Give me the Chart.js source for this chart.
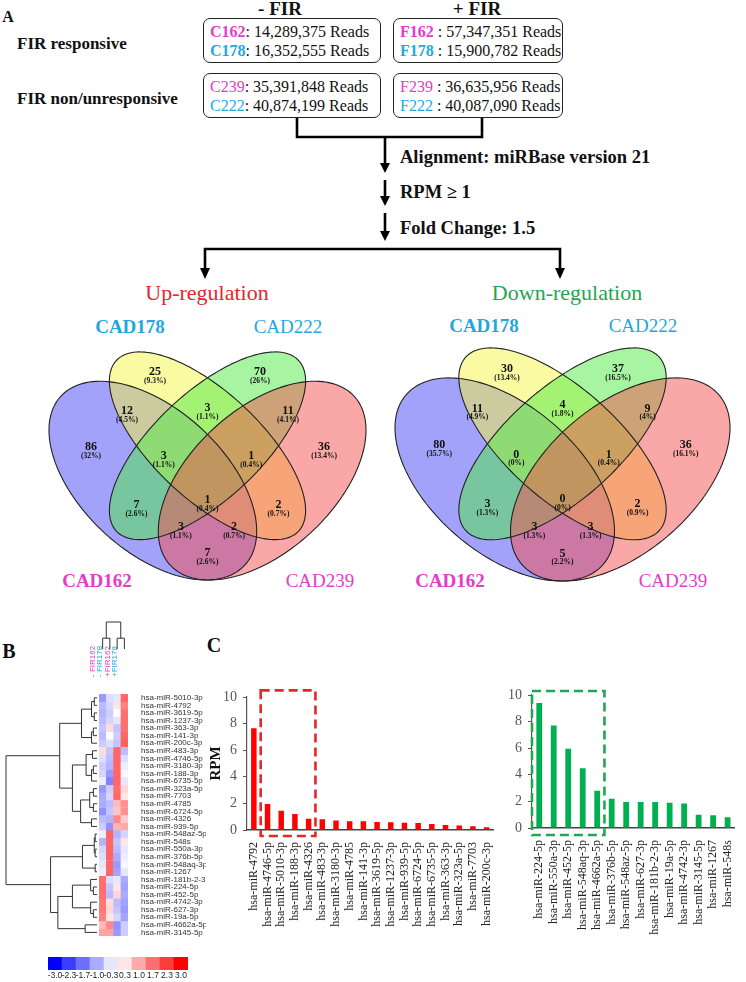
<!DOCTYPE html>
<html>
<head>
<meta charset="utf-8">
<script src="https://cdn.jsdelivr.net/npm/chart.js@4.4.0/dist/chart.umd.min.js"></script>
<style>
body{margin:0;width:746px;height:982px;position:relative;overflow:hidden;background:#fff;font-family:'Liberation Serif',serif;color:#111}
.t{position:absolute;white-space:nowrap;line-height:1}
.c{transform:translate(-50%,-50%)}
.m{transform:translateY(-50%)}
.b{font-weight:bold}
.box{position:absolute;border:1.6px solid #222;border-radius:7px;box-sizing:border-box;font-size:16px;line-height:19px;padding:3px 0 0 6px;white-space:nowrap;height:45px}
.mag{color:#e63bc8}.cy{color:#1fa8e0}
canvas,svg{position:absolute}
</style>
</head>
<body>
<div class="t b c" style="left:8px;top:17px;font-size:16px">A</div>
<div class="t b c" style="left:280px;top:8px;font-size:19px">- FIR</div>
<div class="t b c" style="left:477px;top:8px;font-size:19px">+ FIR</div>
<div class="t b m" style="left:17px;top:43px;font-size:17px">FIR responsive</div>
<div class="t b m" style="left:17px;top:98px;font-size:17px">FIR non/unresponsive</div>
<div class="box" style="left:203px;top:18px;width:178px"><span class="b mag">C162</span>: 14,289,375 Reads<br><span class="b cy">C178</span>: 16,352,555 Reads</div>
<div class="box" style="left:393px;top:18px;width:170px"><span class="b mag">F162</span> : 57,347,351 Reads<br><span class="b cy">F178</span> : 15,900,782 Reads</div>
<div class="box" style="left:203px;top:73px;width:178px"><span class="mag">C239</span>: 35,391,848 Reads<br><span class="cy">C222</span>: 40,874,199 Reads</div>
<div class="box" style="left:393px;top:73px;width:170px"><span class="mag">F239</span> : 36,635,956 Reads<br><span class="cy">F222</span> : 40,087,090 Reads</div>
<svg width="746" height="290" style="left:0;top:0">
  <g stroke="#000" stroke-width="2.6" fill="none">
    <path d="M297 118 V137 H482 V118"/>
    <path d="M385 137 V164"/>
    <path d="M385 180 V197"/>
    <path d="M385 213 V232"/>
    <path d="M205 270 V249 H560 V270"/>
  </g>
  <g fill="#000">
    <polygon points="380,163 390,163 385,173"/>
    <polygon points="380,196 390,196 385,206"/>
    <polygon points="380,231 390,231 385,241"/>
    <polygon points="200,268 210,268 205,279"/>
    <polygon points="555,268 565,268 560,279"/>
  </g>
</svg>
<div class="t b m" style="left:400px;top:157px;font-size:18.5px">Alignment: miRBase version 21</div>
<div class="t b m" style="left:400px;top:192px;font-size:18.5px">RPM ≥ 1</div>
<div class="t b m" style="left:400px;top:228px;font-size:18.5px">Fold Change: 1.5</div>
<div class="t c" style="left:207px;top:293px;font-size:22px;color:#e3262b">Up-regulation</div>
<div class="t c" style="left:567px;top:293px;font-size:22px;color:#1fa650">Down-regulation</div>

<div class="t c b cy" style="left:130px;top:326px;font-size:19px">CAD178</div>
<div class="t c cy" style="left:288px;top:326px;font-size:19px">CAD222</div>
<div class="t c b mag" style="left:97px;top:580px;font-size:19px">CAD162</div>
<div class="t c mag" style="left:320px;top:580px;font-size:19px">CAD239</div>
<div class="t c b cy" style="left:484px;top:325px;font-size:19px">CAD178</div>
<div class="t c cy" style="left:643px;top:325px;font-size:19px">CAD222</div>
<div class="t c b mag" style="left:450px;top:580px;font-size:19px">CAD162</div>
<div class="t c mag" style="left:673px;top:580px;font-size:19px">CAD239</div>

<canvas id="vennUp" width="323" height="234" style="left:46px;top:349px"></canvas>
<canvas id="vennDown" width="341" height="239" style="left:392px;top:345px"></canvas>

<div class="t b c" style="left:9px;top:651px;font-size:20px">B</div>
<div class="t b c" style="left:214px;top:645px;font-size:20px">C</div>

<canvas id="heat" width="206" height="346" style="left:0;top:600px"></canvas>
<canvas id="colorbar" width="150" height="27" style="left:43px;top:955px"></canvas>
<canvas id="upBars" width="305" height="302" style="left:200px;top:680px"></canvas>
<canvas id="downBars" width="246" height="302" style="left:500px;top:680px"></canvas>

<script>
// ---- data ----
const upMiRs = ['hsa-miR-4792', 'hsa-miR-4746-5p', 'hsa-miR-5010-3p', 'hsa-miR-188-3p', 'hsa-miR-4326',
  'hsa-miR-483-3p', 'hsa-miR-3180-3p', 'hsa-miR-4785', 'hsa-miR-141-3p', 'hsa-miR-3619-5p',
  'hsa-miR-1237-3p', 'hsa-miR-939-5p', 'hsa-miR-6724-5p', 'hsa-miR-6735-5p', 'hsa-miR-363-3p',
  'hsa-miR-323a-5p', 'hsa-miR-7703', 'hsa-miR-200c-3p'];
const upRPM = [7.65, 1.95, 1.45, 1.2, 0.85, 0.8, 0.72, 0.65, 0.65, 0.6, 0.58, 0.55, 0.52, 0.45, 0.38, 0.33, 0.28, 0.2];

const downMiRs = ['hsa-miR-224-5p', 'hsa-miR-550a-3p', 'hsa-miR-452-5p', 'hsa-miR-548aq-3p', 'hsa-miR-4662a-5p',
  'hsa-miR-376b-5p', 'hsa-miR-548az-5p', 'hsa-miR-627-3p', 'hsa-miR-181b-2-3p', 'hsa-miR-19a-5p',
  'hsa-miR-4742-3p', 'hsa-miR-3145-5p', 'hsa-miR-1267', 'hsa-miR-548s'];
const downRPM = [9.4, 7.7, 5.95, 4.5, 2.8, 2.2, 1.95, 1.95, 1.95, 1.9, 1.85, 1.0, 0.95, 0.8];

const rpmTicks = [0, 2, 4, 6, 8, 10];

// venn regions: A=CAD162, B=CAD178, C=CAD222, D=CAD239
const vennRegions = ['B', 'C', 'AB', 'BC', 'CD', 'A', 'ABC', 'BCD', 'D', 'AC', 'ABCD', 'BD', 'ACD', 'ABD', 'AD'];
const upCounts = [25, 70, 12, 3, 11, 86, 3, 1, 36, 7, 1, 2, 3, 2, 7];
const upPct = ['9.3%', '26%', '4.5%', '1.1%', '4.1%', '32%', '1.1%', '0.4%', '13.4%', '2.6%', '0.4%', '0.7%', '1.1%', '0.7%', '2.6%'];
const downCounts = [30, 37, 11, 4, 9, 80, 0, 1, 36, 3, 0, 2, 3, 3, 5];
const downPct = ['13.4%', '16.5%', '4.9%', '1.8%', '4%', '35.7%', '0%', '0.4%', '16.1%', '1.3%', '0%', '0.9%', '1.3%', '1.3%', '2.2%'];

const heatSamples = ['- FIR162', '- FIR178', '+FIR162', '+FIR178'];
const heatRows = ['hsa-miR-5010-3p', 'hsa-miR-4792', 'hsa-miR-3619-5p', 'hsa-miR-1237-3p', 'hsa-miR-363-3p',
  'hsa-miR-141-3p', 'hsa-miR-200c-3p', 'hsa-miR-483-3p', 'hsa-miR-4746-5p', 'hsa-miR-3180-3p',
  'hsa-miR-188-3p', 'hsa-miR-6735-5p', 'hsa-miR-323a-5p', 'hsa-miR-7703', 'hsa-miR-4785',
  'hsa-miR-6724-5p', 'hsa-miR-4326', 'hsa-miR-939-5p', 'hsa-miR-548az-5p', 'hsa-miR-548s',
  'hsa-miR-550a-3p', 'hsa-miR-376b-5p', 'hsa-miR-548aq-3p', 'hsa-miR-1267', 'hsa-miR-181b-2-3p',
  'hsa-miR-224-5p', 'hsa-miR-452-5p', 'hsa-miR-4742-3p', 'hsa-miR-627-3p', 'hsa-miR-19a-5p',
  'hsa-miR-4662a-5p', 'hsa-miR-3145-5p'];
const heatValues = [
  [-1.2, -0.4, -0.3, 1.8], [-0.8, -0.5, 0.3, 1.5], [-0.9, -0.6, 0.0, 1.7], [-0.8, -0.5, -0.3, 1.7],
  [-0.7, 0.4, -0.7, 1.7], [-0.8, 0.0, -0.6, 1.8], [-0.6, -0.4, -0.7, 1.9], [0.4, -0.7, 1.8, -0.8],
  [-0.4, -0.8, 1.8, -0.4], [-0.6, -0.9, 1.8, -0.2], [-0.5, -1.2, 1.8, 0.1], [-0.2, -1.5, 1.8, -0.3],
  [-1.2, -0.6, 1.7, 0.5], [-1.0, -0.5, 1.8, 0.3], [-1.0, -0.8, 0.8, 1.3], [-1.3, -0.7, 0.7, 1.3],
  [-0.8, -0.9, 1.4, 0.6], [-0.6, -1.3, 0.9, 1.0], [-0.2, 1.8, -0.9, -0.5], [-0.9, 1.8, -0.7, 0.3],
  [-0.5, 1.8, -0.8, -0.3], [-0.4, 1.8, -1.0, -0.2], [-0.3, 1.8, -1.2, -0.1], [-0.2, 1.8, -1.1, -0.3],
  [1.7, -0.4, -0.3, -1.0], [1.7, -0.7, 0.3, -1.1], [1.7, -0.8, 0.5, -1.0], [1.6, 0.4, -0.8, -1.1],
  [1.6, 0.5, -0.7, -1.2], [1.5, 0.3, -0.5, -1.1], [0.8, 1.4, -1.3, -0.6], [1.1, 1.1, -1.2, -0.6]
];
// dendrograms: [left, right, height]
const rowTree = [
  [[[[0, 1, .03], [2, 3, .03], .06], [[4, 5, .04], 6, .06], .17],
   [[[7, 8, .05], [[9, 10, .04], 11, .06], .12], [[[12, 13, .04], [14, 15, .04], .08], [16, 17, .06], .18], .27], .41],
  [[[[18, 19, .02], [20, 21, .02], .03], [22, 23, .02], .16],
   [[[24, [25, 26, .04], .07], [27, [28, 29, .04], .07], .27], [30, 31, .13], .43], .51],
  1];
const colTree = [[0, 1, .4], [2, 3, .4], 1];
const colorbarTicks = [-3.0, -2.3, -1.7, -1.0, -0.3, 0.3, 1.0, 1.7, 2.3, 3.0];

// ---- drawing ----
Chart.defaults.font.family = "'Liberation Serif', serif";
const base = {responsive: false, animation: false, events: []};

function heatColor(v) {
  const t = Math.min(1, Math.abs(v) / 3);
  const c = Math.round(255 * (1 - t));
  return v < 0 ? `rgb(${c},${c},255)` : `rgb(255,${c},${c})`;
}

// layout of the 4-ellipse venn (unit square)
const vennShapes = [
  {cx: .35, cy: .47, a: .35, b: .20, rot: 135, fill: 'rgba(70,70,245,0.5)'},
  {cx: .50, cy: .57, a: .35, b: .15, rot: 135, fill: 'rgba(245,245,70,0.5)'},
  {cx: .50, cy: .57, a: .35, b: .15, rot: 45, fill: 'rgba(80,235,70,0.5)'},
  {cx: .65, cy: .47, a: .35, b: .20, rot: 45, fill: 'rgba(245,80,80,0.5)'}
];
const regionXY = [[.356, .770], [.644, .770], [.279, .658], [.5, .667], [.721, .658], [.18, .555], [.38, .529],
  [.62, .529], [.82, .555], [.305, .389], [.5, .403], [.695, .389], [.427, .326], [.573, .326], [.5, .251]];

function ellipsePath(ctx, e, x, y) {
  const th = e.rot * Math.PI / 180;
  ctx.beginPath();
  for (let k = 0; k <= 160; k++) {
    const t = k / 160 * 2 * Math.PI, u = e.a * Math.cos(t), w = e.b * Math.sin(t);
    const px = x.getPixelForValue(e.cx + u * Math.cos(th) - w * Math.sin(th));
    const py = y.getPixelForValue(e.cy + u * Math.sin(th) + w * Math.cos(th));
    k ? ctx.lineTo(px, py) : ctx.moveTo(px, py);
  }
  ctx.closePath();
}

const vennPlugin = {
  id: 'venn',
  beforeDatasetsDraw(chart) {
    const {ctx, scales: {x, y}} = chart;
    ctx.save();
    vennShapes.forEach(e => { ellipsePath(ctx, e, x, y); ctx.fillStyle = e.fill; ctx.fill(); });
    ctx.strokeStyle = '#222'; ctx.lineWidth = 1.1;
    vennShapes.forEach(e => { ellipsePath(ctx, e, x, y); ctx.stroke(); });
    ctx.restore();
  },
  afterDatasetsDraw(chart, args, o) {
    const ctx = chart.ctx;
    ctx.save();
    ctx.fillStyle = '#111'; ctx.textAlign = 'center'; ctx.textBaseline = 'middle';
    chart.getDatasetMeta(0).data.forEach((p, i) => {
      ctx.font = "bold 12px 'Liberation Serif'";
      ctx.fillText(String(o.counts[i]), p.x, p.y - 4);
      ctx.font = "bold 7.5px 'Liberation Serif'";
      ctx.fillText('(' + o.pcts[i] + ')', p.x, p.y + 5);
    });
    ctx.restore();
  }
};

function venn(id, counts, pcts) {
  new Chart(document.getElementById(id), {
    type: 'scatter',
    data: {datasets: [{data: regionXY.map(p => ({x: p[0], y: p[1]})), pointRadius: 0}]},
    options: {...base, layout: {padding: 3},
      scales: {x: {display: false, min: .065, max: .935}, y: {display: false, min: .185, max: .839}},
      plugins: {legend: {display: false}, tooltip: {enabled: false}, venn: {counts, pcts}}},
    plugins: [vennPlugin]
  });
}
venn('vennUp', upCounts, upPct);
venn('vennDown', downCounts, downPct);

// heatmap with dendrograms
function walk(n, leaf, hp, seg) {
  if (typeof n === 'number') return {p: leaf(n), h: 0};
  const a = walk(n[0], leaf, hp, seg), b = walk(n[1], leaf, hp, seg), H = hp(n[2]);
  seg(hp(a.h), a.p, H, a.p); seg(hp(b.h), b.p, H, b.p); seg(H, a.p, H, b.p);
  return {p: (a.p + b.p) / 2, h: n[2]};
}
const dendro = {
  id: 'dendro',
  afterDraw(chart) {
    const {ctx, chartArea: ca, scales: {x, y}} = chart;
    ctx.save(); ctx.strokeStyle = '#333'; ctx.lineWidth = 1;
    const line = (x1, y1, x2, y2) => { ctx.beginPath(); ctx.moveTo(x1, y1); ctx.lineTo(x2, y2); ctx.stroke(); };
    walk(rowTree, i => y.getPixelForValue(i + 0.5), h => ca.left - 2 - h * 91, (a, b, c, d) => line(a, b, c, d));
    walk(colTree, i => x.getPixelForValue(i), h => ca.top - 45 - h * 27, (a, b, c, d) => line(b, a, d, c));
    ctx.restore();
  }
};
new Chart(document.getElementById('heat'), {
  type: 'bar',
  data: {labels: heatSamples, datasets: heatRows.map((r, i) => {
    const cols = heatValues[i].map(heatColor);
    return {label: r, data: heatSamples.map(() => 1), backgroundColor: cols, borderColor: cols,
      borderWidth: 0.5, borderSkipped: false, barPercentage: 1, categoryPercentage: 1};
  })},
  options: {...base, layout: {padding: {left: 99, bottom: 1, top: 0, right: 0}},
    plugins: {legend: {display: false}, tooltip: {enabled: false}},
    scales: {
      x: {stacked: true, position: 'top', grid: {display: false}, border: {display: false},
        ticks: {autoSkip: false, minRotation: 90, maxRotation: 90, padding: 9,
          font: {family: "'Liberation Sans'", size: 8},
          color: c => (c.index % 2 ? '#1fa8e0' : '#e63bc8')},
        afterFit: s => { s.height = 94; }},
      y: {stacked: true, position: 'right', reverse: true, min: 0, max: heatRows.length,
        grid: {display: false}, border: {display: false},
        afterBuildTicks: s => { s.ticks = heatRows.map((_, i) => ({value: i + 0.5})); },
        ticks: {autoSkip: false, padding: 5, color: '#333', font: {family: "'Liberation Sans'", size: 8},
          callback: (v, i) => heatRows[i]},
        afterFit: s => { s.width = 78; }}
    }},
  plugins: [dendro]
});

// colour key: labels written under each cell from the category scale
const keyLabels = {
  id: 'keyLabels',
  afterDraw(chart) {
    const {ctx, chartArea: ca, scales: {x}} = chart;
    ctx.save();
    ctx.fillStyle = '#222'; ctx.textAlign = 'center'; ctx.textBaseline = 'middle';
    ctx.font = "8.5px 'Liberation Sans Narrow', 'Liberation Sans'";
    x.getLabels().forEach((lab, i) => ctx.fillText(lab, x.getPixelForValue(i), ca.bottom + 6));
    ctx.restore();
  }
};
new Chart(document.getElementById('colorbar'), {
  type: 'bar',
  data: {labels: colorbarTicks.map(v => v.toFixed(1)), datasets: [{data: colorbarTicks.map(() => 1),
    backgroundColor: colorbarTicks.map(heatColor), barPercentage: 1, categoryPercentage: 1, borderWidth: 0}]},
  options: {...base, layout: {padding: {left: 5, right: 5, top: 2, bottom: 12}},
    plugins: {legend: {display: false}, tooltip: {enabled: false}},
    scales: {y: {display: false, min: 0, max: 1}, x: {display: false}}},
  plugins: [keyLabels]
});

// RPM bar charts
const dashBox = {
  id: 'dashBox',
  afterDraw(chart, args, o) {
    const {ctx, scales: {x, y}} = chart;
    const half = (x.getPixelForValue(1) - x.getPixelForValue(0)) / 2;
    const l = x.getPixelForValue(o.from) - half, r = x.getPixelForValue(o.to) + half;
    const t = y.getPixelForValue(o.top), b = y.getPixelForValue(0) + o.below;
    ctx.save(); ctx.strokeStyle = o.color; ctx.lineWidth = 2.6; ctx.setLineDash([9, 5]);
    ctx.strokeRect(l, t, r - l, b - t); ctx.restore();
  }
};
function rpmChart(id, cats, vals, color, box, yWidth, xHeight, padTop, title) {
  new Chart(document.getElementById(id), {
    type: 'bar',
    data: {labels: cats, datasets: [{data: vals, backgroundColor: color, barPercentage: 0.4, categoryPercentage: 1}]},
    options: {...base, layout: {padding: {top: padTop, right: 0, left: 0, bottom: 0}},
      plugins: {legend: {display: false}, tooltip: {enabled: false}, dashBox: box},
      scales: {
        x: {grid: {display: false}, border: {color: '#444', width: 1.6},
          ticks: {autoSkip: false, minRotation: 90, maxRotation: 90, padding: 4, color: '#222', font: {size: 12}},
          afterFit: s => { s.height = xHeight; }},
        y: {min: 0, max: 10, afterBuildTicks: s => { s.ticks = rpmTicks.map(v => ({value: v})); },
          grid: {drawOnChartArea: false, tickLength: 4, color: '#555'}, border: {color: '#555', width: 1.2},
          ticks: {color: '#555', font: {size: 14}, padding: 6},
          title: {display: title, text: 'RPM', color: '#111', font: {size: 15, weight: 'bold'}, padding: {top: 7, bottom: 0}},
          afterFit: s => { s.width = yWidth; }}
      }},
    plugins: [dashBox]
  });
}
rpmChart('upBars', upMiRs, upRPM, '#ff0000', {from: 1, to: 4, top: 10.5, below: 6, color: '#e4262b'}, 47, 152, 17, true);
rpmChart('downBars', downMiRs, downRPM, '#00b050', {from: 0, to: 4, top: 10.3, below: 7, color: '#1fa84f'}, 32, 154, 15, false);
</script>
</body>
</html>
